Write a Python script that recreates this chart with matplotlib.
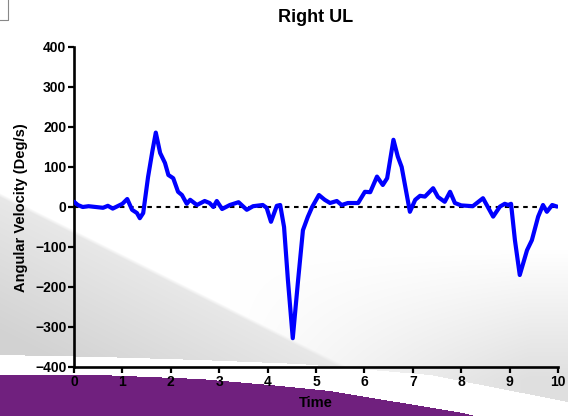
import numpy as np
import matplotlib
matplotlib.use("Agg")
import matplotlib.pyplot as plt

# ---- data ----
time = [0.00, 0.08, 0.18, 0.30, 0.45, 0.60, 0.70, 0.80, 0.90, 1.00,
        1.10, 1.20, 1.30, 1.36, 1.43, 1.53, 1.62, 1.69, 1.78, 1.88,
        1.95, 2.05, 2.15, 2.23, 2.33, 2.40, 2.54, 2.70, 2.80, 2.88,
        2.95, 3.06, 3.22, 3.40, 3.57, 3.70, 3.90, 3.98, 4.07, 4.19,
        4.26, 4.34, 4.42, 4.52, 4.63, 4.73, 4.83, 4.92, 5.06, 5.18,
        5.29, 5.43, 5.53, 5.66, 5.87, 6.01, 6.12, 6.26, 6.38, 6.47,
        6.60, 6.69, 6.77, 6.94, 7.05, 7.15, 7.25, 7.42, 7.52, 7.66,
        7.77, 7.87, 8.00, 8.24, 8.45, 8.66, 8.80, 8.90, 8.97, 9.03,
        9.11, 9.21, 9.36, 9.46, 9.59, 9.69, 9.77, 9.88, 9.98]
velocity = [13, 5, 0, 2, 0, -2, 3, -4, 2, 8,
            20, -7, -15, -28, -15, 75, 140, 186, 135, 110,
            80, 72, 38, 30, 8, 18, 5, 15, 10, 0,
            15, -5, 5, 12, -7, 2, 5, -2, -37, 3,
            5, -50, -183, -328, -183, -58, -25, 0, 30, 18,
            10, 15, 5, 10, 10, 38, 37, 76, 55, 72,
            168, 126, 100, -12, 18, 28, 26, 47, 25, 13,
            38, 10, 4, 2, 22, -24, 1, 8, 5, 8,
            -83, -170, -108, -83, -24, 5, -12, 5, 1]
x_ticks = list(range(0, 11))
y_ticks = list(range(-400, 401, 100))

W, H = 568, 416
fig = plt.figure(figsize=(W / 100, H / 100), dpi=100)

# ---- decorative background ----
X, Y = np.meshgrid(np.arange(W) + 0.5, np.arange(H) + 0.5)
g = np.full((H, W), 255.0)
soft = np.clip((Y - 250) / 130, 0, 1) * np.clip((X - 230) / 300, 0, 1)
g -= 32 * soft
d = Y - (195 + 0.5 * X)
edge = np.clip(d / 4 + 0.5, 0, 1)
wedge_val = 232 - 22 * np.clip(d / 140, 0, 1)
g = g * (1 - edge) + np.minimum(g, wedge_val) * edge

wx = [0, 100, 200, 300, 430, 568]
wy = [355, 357, 360, 364, 375, 402]
px = [0, 100, 200, 270, 330, 463, 568]
py = [375, 375, 379, 385, 391, 413, 440]
wt = np.interp(X, wx, wy)
pt = np.interp(X, px, py)
img = np.stack([g, g, g], axis=-1)
band = (Y > wt) & (Y <= pt)
img[band] = 255
purple = Y > pt
img[purple] = [112, 32, 126]
img = np.clip(img, 0, 255).astype(np.uint8)

bg = fig.add_axes([0, 0, 1, 1])
bg.imshow(img, extent=[0, W, H, 0], aspect='auto', interpolation='bilinear')
bg.plot([0, 8, 8], [20, 20, 0], color='#888888', lw=0.8)
bg.set_xlim(0, W)
bg.set_ylim(H, 0)
bg.axis('off')
bg.set_zorder(0)

# ---- main axes ----
left, right = 74 / W, 558 / W
bottom, top = 1 - 367 / H, 1 - 47 / H
ax = fig.add_axes([left, bottom, right - left, top - bottom])
ax.set_zorder(1)
ax.patch.set_visible(False)

ax.axhline(0, color='black', lw=1.5, ls=(0, (2.2, 2.2)), zorder=2)
ax.plot(time, velocity, color='#0000ff', lw=3.0, zorder=3,
        solid_joinstyle='round', solid_capstyle='round')

ax.set_xlim(0, 10)
ax.set_ylim(-400, 400)
ax.set_xticks(x_ticks)
ax.set_yticks(y_ticks)
for s in ['top', 'right']:
    ax.spines[s].set_visible(False)
for s in ['left', 'bottom']:
    ax.spines[s].set_linewidth(1.9)
ax.tick_params(direction='out', length=4, width=1.6, pad=1.5)
for lab in ax.get_xticklabels() + ax.get_yticklabels():
    lab.set_fontfamily('Liberation Sans')
    lab.set_fontweight('bold')
    lab.set_fontsize(10)

cx = (left + right) / 2
fig.text(cx, 1 - 17 / H, 'Right UL', ha='center', va='center',
         fontfamily='Liberation Sans', fontweight='bold', fontsize=13)
fig.text(cx, 1 - 403 / H, 'Time', ha='center', va='center',
         fontfamily='Liberation Sans', fontweight='bold', fontsize=10.5)
fig.text(21 / W, 1 - 208 / H, 'Angular Velocity (Deg/s)', ha='center',
         va='center', rotation=90,
         fontfamily='Liberation Sans', fontweight='bold', fontsize=10.5)

fig.savefig('out.png', dpi=100)
